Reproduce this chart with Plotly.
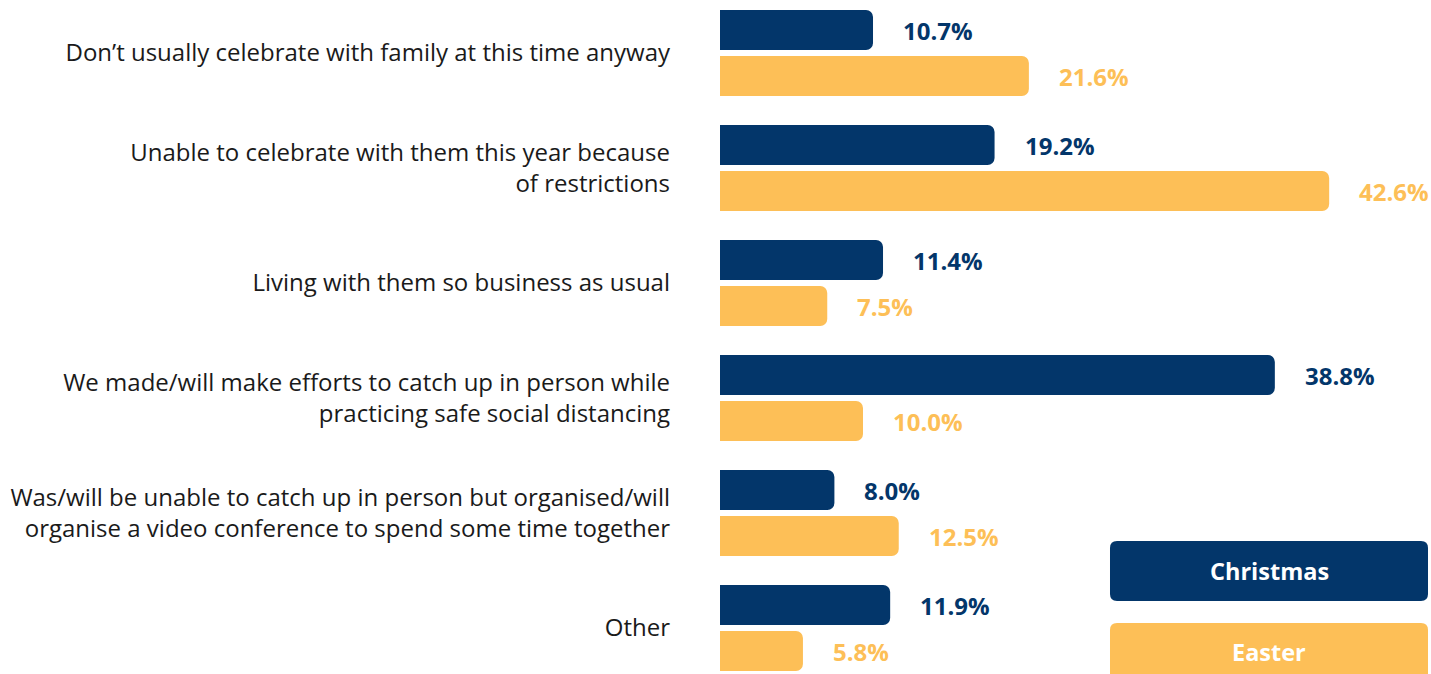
import plotly.graph_objects as go

categories = [
    "Don’t usually celebrate with family at this time anyway",
    "Unable to celebrate with them this year because<br>of restrictions",
    "Living with them so business as usual",
    "We made/will make efforts to catch up in person while<br>practicing safe social distancing",
    "Was/will be unable to catch up in person but organised/will<br>organise a video conference to spend some time together",
    "Other",
]
christmas = [10.7, 19.2, 11.4, 38.8, 8.0, 11.9]
easter = [21.6, 42.6, 7.5, 10.0, 12.5, 5.8]
series_names = ["Christmas", "Easter"]

NAVY = "#03366A"
GOLD = "#FDBF57"
W, H = 1431, 674
ML = 720
PW = W - ML
FONT = "Open Sans"

fig = go.Figure()
for name, vals, col in [(series_names[0], christmas, NAVY), (series_names[1], easter, GOLD)]:
    fig.add_trace(go.Bar(
        y=categories, x=vals, orientation="h", name=name,
        marker=dict(color=col, cornerradius=7, line=dict(width=0)),
        hoverinfo="skip", showlegend=False,
    ))

# value labels
for vals, col, ys in [(christmas, NAVY, 23), (easter, GOLD, -23)]:
    for c, v in zip(categories, vals):
        fig.add_annotation(x=v, y=c, text=f"<b>{v:.1f}%</b>", showarrow=False,
                           xanchor="left", yanchor="middle", xshift=28, yshift=ys,
                           font=dict(family=FONT, size=24, color=col))

def px2paper(px, py):
    return (px - ML) / PW, 1 - py / H

def rounded(x0, y0, x1, y1, r):
    def p(x, y):
        a, b = px2paper(x, y)
        return f"{a:.5f},{b:.5f}"
    return (f"M {p(x0+r,y0)} L {p(x1-r,y0)} Q {p(x1,y0)} {p(x1,y0+r)} "
            f"L {p(x1,y1-r)} Q {p(x1,y1)} {p(x1-r,y1)} L {p(x0+r,y1)} "
            f"Q {p(x0,y1)} {p(x0,y1-r)} L {p(x0,y0+r)} Q {p(x0,y0)} {p(x0+r,y0)} Z")

# legend boxes (pixel coordinates)
legend_boxes = [(541, 601, 571), (623, 690, 652)]
for (ty, by, cy), col, name in zip(legend_boxes, [NAVY, GOLD], series_names):
    fig.add_shape(type="path", path=rounded(1110, ty, 1428, by, 7), xref="paper", yref="paper",
                  fillcolor=col, line=dict(width=0), layer="above")
    ax, ay = px2paper(1269, cy)
    fig.add_annotation(x=ax, y=ay, xref="paper", yref="paper", text=f"<b>{name}</b>",
                       showarrow=False, xanchor="center", yanchor="middle",
                       font=dict(family=FONT, size=23.5, color="white"))

top_px = 53
fig.update_layout(
    width=W, height=H,
    margin=dict(l=ML, r=0, t=0, b=0),
    paper_bgcolor="white", plot_bgcolor="white",
    barmode="group", bargap=0.2, bargroupgap=0.1304,
    xaxis=dict(range=[0, PW / 14.3], visible=False, fixedrange=True),
    yaxis=dict(range=[(H - top_px) / 115, -top_px / 115], showgrid=False, zeroline=False,
               showline=False, ticks="", ticklabelstandoff=49, fixedrange=True,
               tickfont=dict(family=FONT, size=24, color="#1a1a1a")),
    font=dict(family=FONT),
)

fig.write_html("out.html", config={"displayModeBar": False, "staticPlot": True},
               post_script="document.body.style.margin='0';document.body.style.overflow='hidden';")
